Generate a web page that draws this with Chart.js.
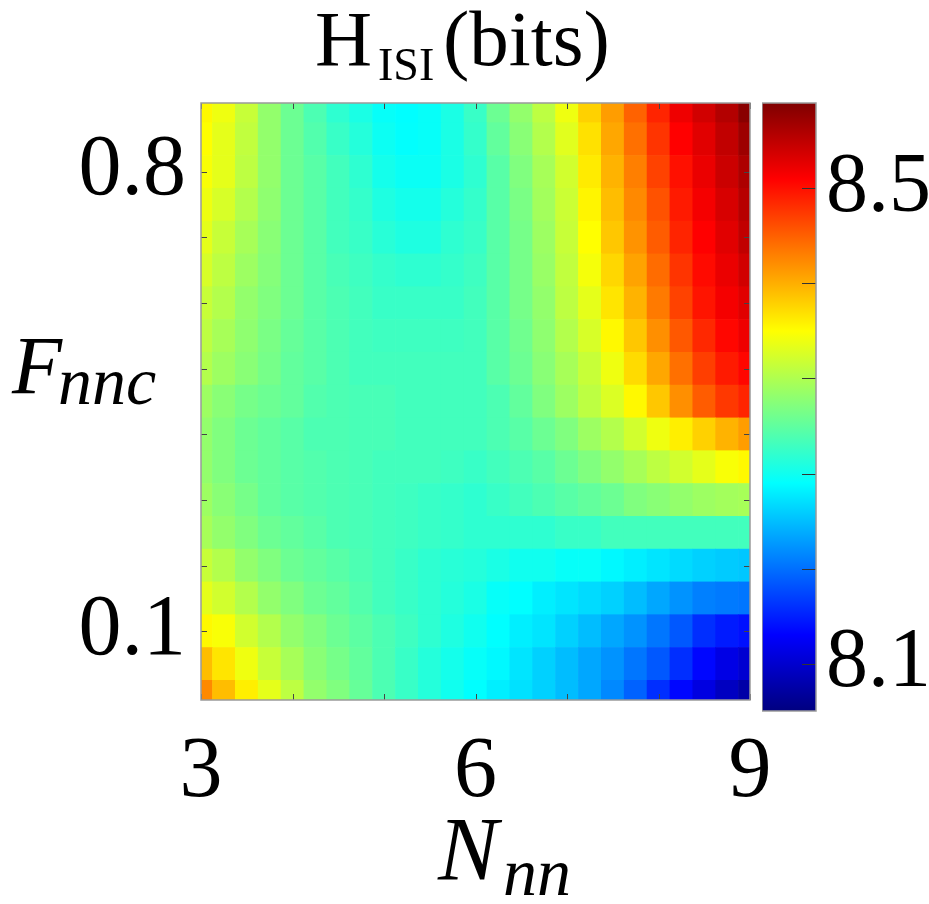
<!DOCTYPE html>
<html><head><meta charset="utf-8">
<script src="https://cdn.jsdelivr.net/npm/chart.js@4.4.1/dist/chart.umd.min.js"></script>
<style>
html,body{margin:0;padding:0;background:#fff;}
#wrap{position:relative;width:929px;height:904px;overflow:hidden;background:#fff;}
canvas{position:absolute;}
.t{position:absolute;font-family:"Liberation Serif","Times New Roman",serif;color:#000;white-space:nowrap;line-height:1;}
.i{font-style:italic;}
</style></head><body>
<div id="wrap">
<canvas id="main" width="929" height="904" style="left:0;top:0;width:929px;height:904px"></canvas>
<canvas id="cbar" width="167" height="904" style="left:762px;top:0;width:167px;height:904px"></canvas>
<span class="t" style="left:315px;top:-1px;font-size:79px">H</span>
<span class="t" style="left:378px;top:42px;font-size:46px">ISI</span>
<span class="t" style="left:443px;top:-1px;font-size:79px">(bits)</span>
<span class="t i" style="left:12px;top:325px;font-size:82px">F</span>
<span class="t i" style="left:58px;top:347px;font-size:68px">nnc</span>
<span class="t i" style="left:438px;top:805px;font-size:90px">N</span>
<span class="t i" style="left:503px;top:838px;font-size:68px">nn</span>
</div>
<script>
// ---- data (H_ISI in bits) ----
const N_VALUES = [3,3.25,3.5,3.75,4,4.25,4.5,4.75,5,5.25,5.5,5.75,6,6.25,6.5,6.75,7,7.25,7.5,7.75,8,8.25,8.5,8.75,9];
const F_VALUES = [0.9,0.85,0.8,0.75,0.7,0.65,0.6,0.55,0.5,0.45,0.4,0.35,0.3,0.25,0.2,0.15,0.1,0.05,0.0];
const H_F090 = [8.383,8.372,8.352,8.326,8.306,8.290,8.275,8.265,8.255,8.252,8.255,8.265,8.280,8.306,8.326,8.347,8.372,8.403,8.429,8.459,8.490,8.516,8.531,8.546,8.567];
const H_F085 = [8.380,8.367,8.349,8.326,8.306,8.293,8.280,8.270,8.258,8.253,8.255,8.265,8.278,8.301,8.321,8.342,8.365,8.395,8.424,8.452,8.482,8.508,8.523,8.539,8.557];
const H_F080 = [8.377,8.367,8.347,8.326,8.306,8.296,8.285,8.275,8.262,8.257,8.257,8.265,8.275,8.296,8.316,8.336,8.357,8.390,8.418,8.444,8.475,8.500,8.518,8.534,8.549];
const H_F075 = [8.372,8.360,8.342,8.324,8.306,8.296,8.285,8.278,8.267,8.262,8.262,8.270,8.278,8.296,8.313,8.334,8.354,8.385,8.413,8.439,8.467,8.495,8.513,8.528,8.544];
const H_F070 = [8.367,8.352,8.336,8.321,8.306,8.296,8.285,8.280,8.272,8.267,8.267,8.275,8.280,8.296,8.311,8.331,8.352,8.380,8.408,8.434,8.462,8.490,8.508,8.523,8.539];
const H_F065 = [8.360,8.347,8.331,8.319,8.306,8.296,8.288,8.283,8.278,8.275,8.275,8.278,8.283,8.296,8.311,8.329,8.349,8.375,8.400,8.426,8.454,8.482,8.503,8.518,8.531];
const H_F060 = [8.352,8.342,8.326,8.316,8.306,8.296,8.290,8.285,8.280,8.280,8.280,8.280,8.285,8.296,8.311,8.326,8.347,8.367,8.393,8.418,8.447,8.475,8.498,8.513,8.523];
const H_F055 = [8.347,8.336,8.324,8.313,8.303,8.296,8.290,8.285,8.283,8.283,8.283,8.283,8.285,8.296,8.308,8.324,8.342,8.360,8.383,8.408,8.436,8.464,8.488,8.505,8.516];
const H_F050 = [8.342,8.331,8.321,8.311,8.301,8.296,8.290,8.285,8.285,8.285,8.285,8.285,8.285,8.296,8.306,8.321,8.336,8.352,8.372,8.398,8.424,8.452,8.477,8.495,8.505];
const H_F045 = [8.331,8.321,8.311,8.306,8.301,8.293,8.290,8.288,8.288,8.285,8.285,8.285,8.285,8.290,8.301,8.316,8.331,8.347,8.362,8.383,8.408,8.436,8.462,8.480,8.490];
const H_F040 = [8.326,8.316,8.306,8.301,8.296,8.290,8.290,8.288,8.288,8.285,8.285,8.285,8.285,8.290,8.296,8.306,8.316,8.331,8.342,8.357,8.372,8.388,8.403,8.418,8.429];
const H_F035 = [8.326,8.316,8.306,8.301,8.296,8.293,8.290,8.288,8.285,8.285,8.285,8.283,8.280,8.285,8.290,8.296,8.306,8.316,8.326,8.336,8.347,8.357,8.367,8.377,8.383];
const H_F030 = [8.331,8.321,8.311,8.301,8.296,8.293,8.290,8.288,8.285,8.283,8.280,8.278,8.275,8.280,8.285,8.290,8.296,8.301,8.306,8.316,8.321,8.326,8.331,8.334,8.336];
const H_F025 = [8.336,8.326,8.316,8.306,8.301,8.296,8.290,8.288,8.285,8.283,8.280,8.278,8.275,8.275,8.275,8.275,8.280,8.280,8.285,8.285,8.285,8.285,8.285,8.285,8.285];
const H_F020 = [8.352,8.342,8.326,8.316,8.306,8.301,8.296,8.290,8.285,8.280,8.275,8.272,8.270,8.265,8.260,8.260,8.255,8.255,8.249,8.244,8.239,8.234,8.229,8.226,8.224];
const H_F015 = [8.367,8.357,8.342,8.326,8.316,8.306,8.301,8.293,8.285,8.280,8.275,8.270,8.265,8.255,8.252,8.244,8.239,8.234,8.229,8.219,8.208,8.198,8.188,8.185,8.183];
const H_F010 = [8.383,8.377,8.357,8.342,8.326,8.316,8.306,8.298,8.290,8.283,8.275,8.267,8.260,8.252,8.244,8.239,8.229,8.219,8.208,8.198,8.183,8.168,8.147,8.137,8.132];
const H_F005 = [8.413,8.393,8.372,8.352,8.336,8.321,8.311,8.301,8.290,8.280,8.270,8.262,8.255,8.249,8.239,8.229,8.219,8.208,8.198,8.183,8.168,8.147,8.127,8.111,8.101];
const H_F000 = [8.439,8.413,8.388,8.367,8.347,8.326,8.316,8.303,8.290,8.280,8.270,8.260,8.252,8.244,8.237,8.229,8.219,8.208,8.193,8.173,8.147,8.127,8.109,8.093,8.080];
const H_ROWS = [H_F090,H_F085,H_F080,H_F075,H_F070,H_F065,H_F060,H_F055,H_F050,H_F045,H_F040,H_F035,H_F030,H_F025,H_F020,H_F015,H_F010,H_F005,H_F000];

const X_TICKS = [3,4,5,6,7,8,9];
const X_TICK_LABELS = ['3','','','6','','','9'];
const Y_TICKS = [0.1,0.2,0.3,0.4,0.5,0.6,0.7,0.8];
const Y_TICK_LABELS = ['0.1','','','','','','','0.8'];
const CB_TICKS = [8.1,8.18,8.26,8.34,8.42,8.5];
const CB_TICK_LABELS = ['8.1','','','','','8.5'];
const H_MIN = 8.060, H_MAX = 8.572;   // colour limits
const X_MIN = 3, X_MAX = 9, Y_MIN = -0.005, Y_MAX = 0.905;

// ---- jet colormap ----
function clamp01(v){return Math.max(0,Math.min(1,v));}
function jetRGB(t){
  t = clamp01(t);
  const r = clamp01(Math.min(4*t-1.5, -4*t+4.5));
  const g = clamp01(Math.min(4*t-0.5, -4*t+3.5));
  const b = clamp01(Math.min(4*t+0.5, -4*t+2.5));
  return [Math.round(r*255),Math.round(g*255),Math.round(b*255)];
}
function jet(t){const c=jetRGB(t);return 'rgb('+c[0]+','+c[1]+','+c[2]+')';}

const FONT = '"Liberation Serif", "Times New Roman", serif';

const frameTicks = {
  id: 'frameTicks',
  afterDatasetsDraw(chart, args, opts) {
    const {ctx, chartArea: a} = chart;
    ctx.save();
    ctx.strokeStyle = opts.tickColor || '#333';
    ctx.lineWidth = 1;
    const L = opts.len || 6;
    if (opts.xTicks) {
      const sx = chart.scales.x;
      sx.ticks.forEach((t, i) => {
        const px = Math.round(sx.getPixelForTick(i)) + 0.5;
        ctx.beginPath();
        ctx.moveTo(px, a.bottom); ctx.lineTo(px, a.bottom - L);
        ctx.moveTo(px, a.top); ctx.lineTo(px, a.top + L);
        ctx.stroke();
      });
    }
    const sy = chart.scales.y;
    sy.ticks.forEach((t, i) => {
      const py = Math.round(sy.getPixelForTick(i)) + 0.5;
      ctx.beginPath();
      if (opts.leftTicks) { ctx.moveTo(a.left, py); ctx.lineTo(a.left + L, py); }
      ctx.moveTo(a.right, py); ctx.lineTo(a.right - L, py);
      ctx.stroke();
    });
    ctx.strokeStyle = opts.frameColor || '#999';
    ctx.lineWidth = 1.5;
    ctx.strokeRect(a.left, a.top, a.right - a.left, a.bottom - a.top);
    ctx.restore();
  }
};

function build() {
  Chart.defaults.font.family = FONT;
  Chart.defaults.color = '#000';

  const dF = Math.abs(F_VALUES[1]-F_VALUES[0]);
  const cells = [];
  F_VALUES.forEach((f, r) => {
    N_VALUES.forEach((n, c) => {
      cells.push({x: n, y: [f - dF/2, f + dF/2], h: H_ROWS[r][c]});
    });
  });

  new Chart(document.getElementById('main'), {
    type: 'bar',
    data: {
      datasets: [{
        data: cells,
        backgroundColor: (ctx) => ctx.raw ? jet((ctx.raw.h - H_MIN)/(H_MAX - H_MIN)) : '#000',
        borderWidth: 0,
        barPercentage: 1,
        categoryPercentage: 1,
        grouped: false,
        clip: 0
      }]
    },
    options: {
      responsive: false,
      animation: false,
      devicePixelRatio: 1,
      events: [],
      layout: {padding: {left: 0, top: 103, right: 179, bottom: 0}},
      plugins: {legend: {display: false}, tooltip: {enabled: false},
        frameTicks: {xTicks: true, leftTicks: true, len: 6, tickColor: '#444', frameColor: '#9a9a9a'}},
      scales: {
        x: {
          type: 'linear', min: X_MIN, max: X_MAX, offset: false,
          afterBuildTicks: (s) => { s.ticks = X_TICKS.map(v => ({value: v})); },
          afterFit: (s) => { s.height = 204; },
          grid: {display: false, drawTicks: false},
          border: {display: false},
          ticks: {autoSkip: false, maxRotation: 0, padding: 22,
            font: {size: 86, family: FONT},
            callback: (v, i) => X_TICK_LABELS[i]}
        },
        y: {
          type: 'linear', min: Y_MIN, max: Y_MAX,
          afterBuildTicks: (s) => { s.ticks = Y_TICKS.map(v => ({value: v})); },
          afterFit: (s) => { s.width = 201; },
          grid: {display: false, drawTicks: false},
          border: {display: false},
          ticks: {autoSkip: false, padding: 15,
            font: {size: 86, family: FONT},
            callback: (v, i) => Y_TICK_LABELS[i]}
        }
      }
    },
    plugins: [frameTicks]
  });

  new Chart(document.getElementById('cbar'), {
    type: 'bar',
    data: {
      labels: ['H'],
      datasets: [{
        data: [[H_MIN, H_MAX]],
        backgroundColor: (ctx) => {
          const chart = ctx.chart, a = chart.chartArea;
          if (!a) return '#888';
          const ys = chart.scales.y;
          const g = chart.ctx.createLinearGradient(0, ys.getPixelForValue(H_MIN), 0, ys.getPixelForValue(H_MAX));
          for (let k = 0; k <= 64; k++) g.addColorStop(k/64, jet(k/64));
          return g;
        },
        borderWidth: 0,
        barPercentage: 1,
        categoryPercentage: 1,
        clip: 0
      }]
    },
    options: {
      responsive: false,
      animation: false,
      devicePixelRatio: 1,
      events: [],
      layout: {padding: {left: 0, top: 103, right: 0, bottom: 193}},
      plugins: {legend: {display: false}, tooltip: {enabled: false},
        frameTicks: {xTicks: false, leftTicks: false, len: 14, tickColor: '#333', frameColor: '#9a9a9a'}},
      scales: {
        x: {display: false},
        y: {
          position: 'right', min: H_MIN, max: H_MAX,
          afterBuildTicks: (s) => { s.ticks = CB_TICKS.map(v => ({value: v})); },
          afterFit: (s) => { s.width = 113; },
          grid: {display: false, drawTicks: false},
          border: {display: false},
          ticks: {autoSkip: false, padding: 10,
            font: {size: 84, family: FONT},
            callback: (v, i) => CB_TICK_LABELS[i]}
        }
      }
    },
    plugins: [frameTicks]
  });
}

let built = false;
function go(){ if (!built) { built = true; build(); } }
if (document.fonts && document.fonts.load) {
  Promise.all([
    document.fonts.load('86px "Liberation Serif"', '0123456789.'),
    document.fonts.load('italic 80px "Liberation Serif"', 'Fnc')
  ]).then(go, go);
  setTimeout(go, 1500);
} else { go(); }
</script>
</body></html>
